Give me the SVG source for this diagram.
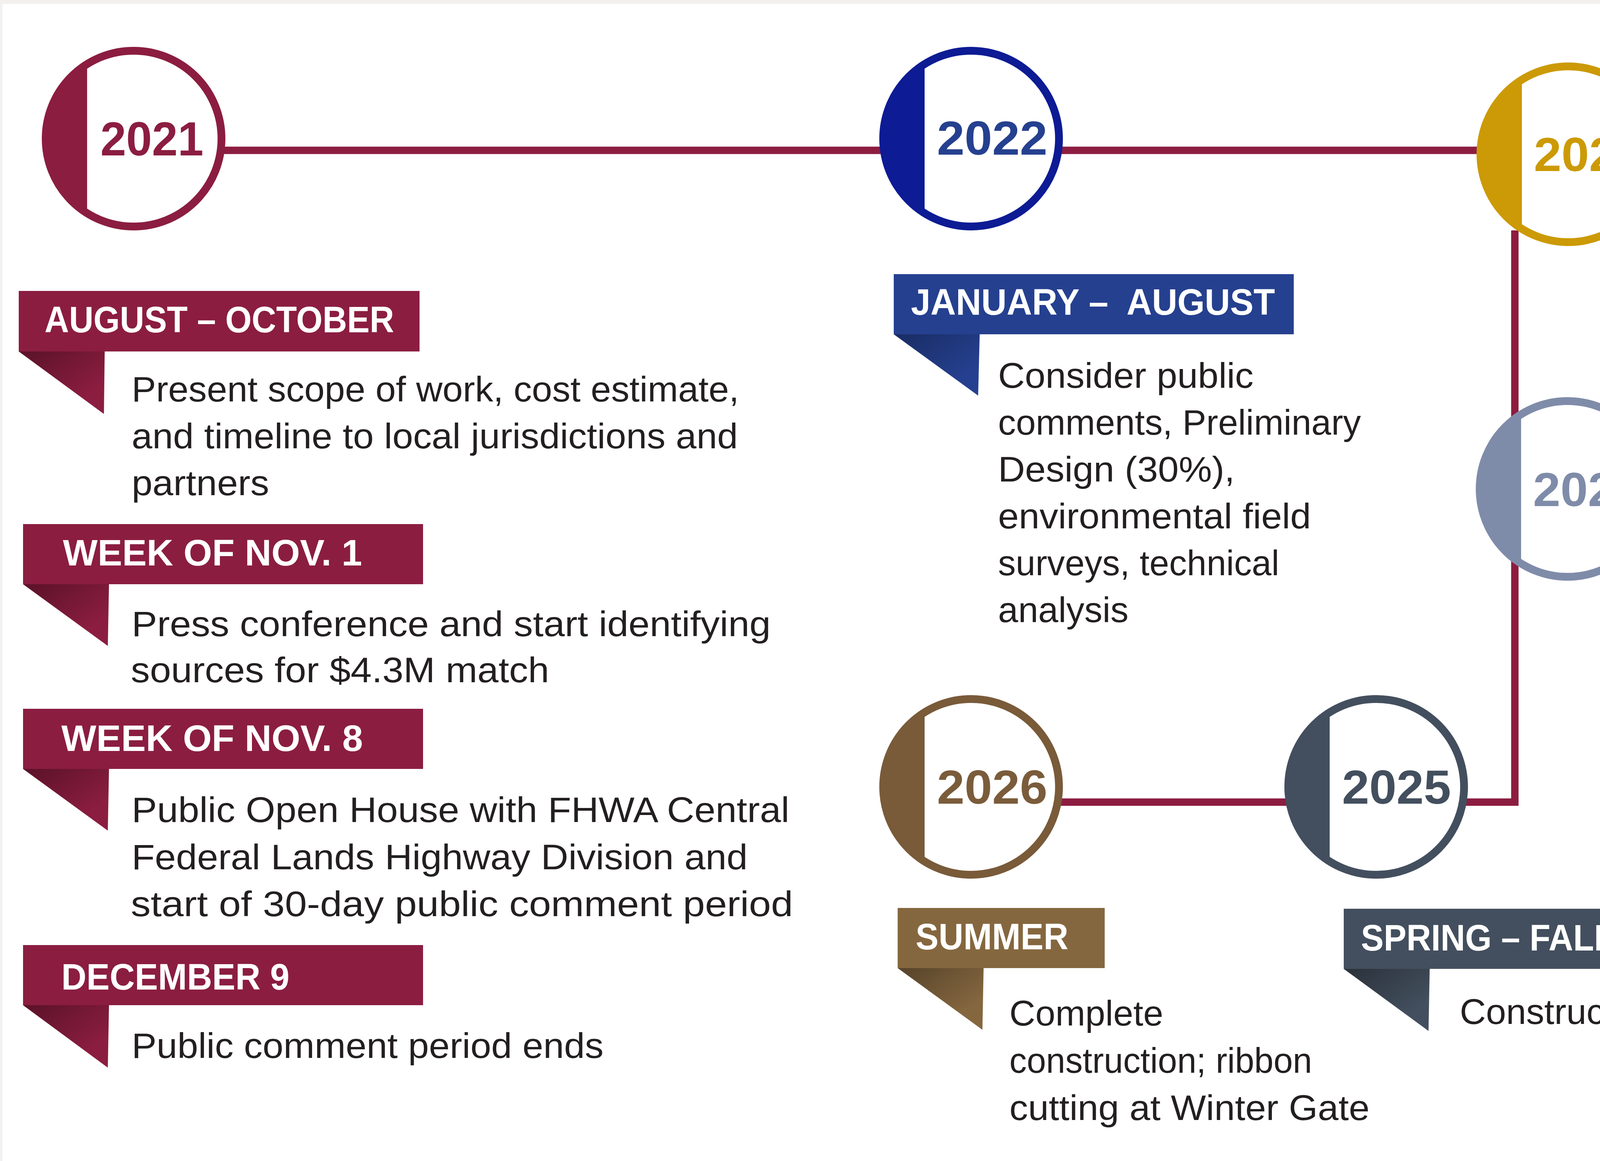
<svg xmlns="http://www.w3.org/2000/svg" width="5618" height="2973" viewBox="0 0 5618 2973">
<style>
.hdr{font-family:"Liberation Sans",Arial,sans-serif;font-weight:700;font-size:95px;fill:#ffffff}
.body{font-family:"Liberation Sans",Arial,sans-serif;font-size:90px;fill:#231f20}
.yr{font-family:"Liberation Sans",Arial,sans-serif;font-weight:700;font-size:122px;text-anchor:middle}
.conn{stroke:#8c1d40;stroke-width:19;fill:none;stroke-linejoin:miter}
.ring{fill:#ffffff;stroke-width:20}
</style>
<defs>
<linearGradient id="gM" x1="0" y1="0" x2="1" y2="1"><stop offset="0" stop-color="#5a1228"/><stop offset="0.75" stop-color="#8b1d41"/></linearGradient>
<linearGradient id="gB" x1="0" y1="0" x2="1" y2="1"><stop offset="0" stop-color="#192c63"/><stop offset="0.75" stop-color="#25408f"/></linearGradient>
<linearGradient id="gG" x1="0" y1="0" x2="1" y2="1"><stop offset="0" stop-color="#8a6600"/><stop offset="0.75" stop-color="#cc9a06"/></linearGradient>
<linearGradient id="gS" x1="0" y1="0" x2="1" y2="1"><stop offset="0" stop-color="#575f73"/><stop offset="0.75" stop-color="#7f8ca9"/></linearGradient>
<linearGradient id="gD" x1="0" y1="0" x2="1" y2="1"><stop offset="0" stop-color="#2a313a"/><stop offset="0.75" stop-color="#434f5e"/></linearGradient>
<linearGradient id="gN" x1="0" y1="0" x2="1" y2="1"><stop offset="0" stop-color="#56432a"/><stop offset="0.75" stop-color="#85673f"/></linearGradient>
</defs>
<rect x="0" y="0" width="5618" height="2973" fill="#f2f1ef"/>
<rect x="6" y="10" width="5602" height="2963" fill="#ffffff"/>

<g id="connectors">
<path class="conn" d="M560,385 H3790"/>
<path class="conn" d="M3878,590 V2054 H2700"/>
</g>

<g id="node-2021">
<circle class="ring" cx="342" cy="355" r="225" stroke="#8b1d41"/>
<path d="M223,165 A224,224 0 0 0 223,545 Z" fill="#8b1d41"/>
<text class="yr" x="389" y="398" fill="#8b1d41" textLength="264" lengthAdjust="spacingAndGlyphs">2021</text>
</g>
<g id="node-2022">
<circle class="ring" cx="2486" cy="355" r="225" stroke="#0d1b94"/>
<path d="M2367,165 A224,224 0 0 0 2367,545 Z" fill="#0d1b94"/>
<text class="yr" x="2540" y="396" fill="#25408f" textLength="283" lengthAdjust="spacingAndGlyphs">2022</text>
</g>
<g id="node-2023">
<circle class="ring" cx="4015" cy="395" r="225" stroke="#cc9a06"/>
<path d="M3896,205 A224,224 0 0 0 3896,585 Z" fill="#cc9a06"/>
<text class="yr" x="4068" y="438" fill="#cc9a06" textLength="283" lengthAdjust="spacingAndGlyphs">2023</text>
</g>
<g id="node-2024">
<circle class="ring" cx="4013" cy="1252" r="225" stroke="#7f8ca9"/>
<path d="M3894,1062 A224,224 0 0 0 3894,1442 Z" fill="#7f8ca9"/>
<text class="yr" x="4065" y="1296" fill="#7f8ca9" textLength="281" lengthAdjust="spacingAndGlyphs">2024</text>
</g>
<g id="node-2025">
<circle class="ring" cx="3523" cy="2015" r="225" stroke="#434f5e"/>
<path d="M3404,1825 A224,224 0 0 0 3404,2205 Z" fill="#434f5e"/>
<text class="yr" x="3575" y="2058" fill="#434f5e" textLength="279" lengthAdjust="spacingAndGlyphs">2025</text>
</g>
<g id="node-2026">
<circle class="ring" cx="2486" cy="2015" r="225" stroke="#795a39"/>
<path d="M2367,1825 A224,224 0 0 0 2367,2205 Z" fill="#795a39"/>
<text class="yr" x="2540" y="2058" fill="#7a5c3b" textLength="283" lengthAdjust="spacingAndGlyphs">2026</text>
</g>

<g id="event-aug-oct-2021">
<rect x="48" y="745" width="1026" height="155" fill="#8b1d41"/>
<path d="M48,900 H268 L266,1060 Z" fill="url(#gM)"/>
<text class="hdr" x="114" y="851" textLength="895" lengthAdjust="spacingAndGlyphs">AUGUST – OCTOBER</text>
<text class="body" x="337" y="1028" textLength="1555" lengthAdjust="spacingAndGlyphs">Present scope of work, cost estimate,</text>
<text class="body" x="337" y="1148" textLength="1552" lengthAdjust="spacingAndGlyphs">and timeline to local jurisdictions and</text>
<text class="body" x="337" y="1268" textLength="352" lengthAdjust="spacingAndGlyphs">partners</text>
</g>
<g id="event-nov1">
<rect x="59" y="1342" width="1024" height="154" fill="#8b1d41"/>
<path d="M59,1496 H279 L276,1654 Z" fill="url(#gM)"/>
<text class="hdr" x="161" y="1448" textLength="766" lengthAdjust="spacingAndGlyphs">WEEK OF NOV. 1</text>
<text class="body" x="337" y="1629" textLength="1636" lengthAdjust="spacingAndGlyphs">Press conference and start identifying</text>
<text class="body" x="335" y="1747" textLength="1071" lengthAdjust="spacingAndGlyphs">sources for $4.3M match</text>
</g>
<g id="event-nov8">
<rect x="59" y="1815" width="1024" height="154" fill="#8b1d41"/>
<path d="M59,1969 H279 L276,2127 Z" fill="url(#gM)"/>
<text class="hdr" x="157" y="1923" textLength="772" lengthAdjust="spacingAndGlyphs">WEEK OF NOV. 8</text>
<text class="body" x="337" y="2105" textLength="1684" lengthAdjust="spacingAndGlyphs">Public Open House with FHWA Central</text>
<text class="body" x="337" y="2226" textLength="1577" lengthAdjust="spacingAndGlyphs">Federal Lands Highway Division and</text>
<text class="body" x="335" y="2346" textLength="1695" lengthAdjust="spacingAndGlyphs">start of 30-day public comment period</text>
</g>
<g id="event-dec9">
<rect x="59" y="2420" width="1024" height="154" fill="#8b1d41"/>
<path d="M59,2574 H279 L276,2734 Z" fill="url(#gM)"/>
<text class="hdr" x="157" y="2534" textLength="584" lengthAdjust="spacingAndGlyphs">DECEMBER 9</text>
<text class="body" x="337" y="2709" textLength="1208" lengthAdjust="spacingAndGlyphs">Public comment period ends</text>
</g>

<g id="event-jan-aug-2022">
<rect x="2288" y="702" width="1024" height="154" fill="#25408f"/>
<path d="M2288,856 H2508 L2504,1013 Z" fill="url(#gB)"/>
<text class="hdr" x="2332" y="806" textLength="932" lengthAdjust="spacingAndGlyphs" xml:space="preserve">JANUARY –  AUGUST</text>
<text class="body" x="2555" y="993" textLength="654" lengthAdjust="spacingAndGlyphs">Consider public</text>
<text class="body" x="2555" y="1113" textLength="929" lengthAdjust="spacingAndGlyphs">comments, Preliminary</text>
<text class="body" x="2555" y="1233" textLength="606" lengthAdjust="spacingAndGlyphs">Design (30%),</text>
<text class="body" x="2555" y="1353" textLength="801" lengthAdjust="spacingAndGlyphs">environmental field</text>
<text class="body" x="2555" y="1473" textLength="720" lengthAdjust="spacingAndGlyphs">surveys, technical</text>
<text class="body" x="2555" y="1593" textLength="334" lengthAdjust="spacingAndGlyphs">analysis</text>
</g>

<g id="event-may-dec-2023">
<rect x="4355" y="302" width="906" height="154" fill="#cc9a06"/>
<path d="M4355,456 H4574 L4572,615 Z" fill="url(#gG)"/>
<text class="hdr" x="4400" y="406" textLength="792" lengthAdjust="spacingAndGlyphs">MAY – DECEMBER</text>
<text class="body" x="4666" y="603" textLength="665" lengthAdjust="spacingAndGlyphs">Pre-final design</text>
<text class="body" x="4666" y="725" textLength="893" lengthAdjust="spacingAndGlyphs">(95%), final technical</text>
<text class="body" x="4666" y="844" textLength="753" lengthAdjust="spacingAndGlyphs">reports and NEPA</text>
<text class="body" x="4666" y="964" textLength="610" lengthAdjust="spacingAndGlyphs">documentation</text>
</g>

<g id="event-jan-mar-2024">
<rect x="4314" y="1153" width="1025" height="154" fill="#7f8ca9"/>
<path d="M4314,1307 H4534 L4531,1467 Z" fill="url(#gS)"/>
<text class="hdr" x="4355" y="1261" textLength="892" lengthAdjust="spacingAndGlyphs">JANUARY – MARCH</text>
<text class="body" x="4607" y="1455" textLength="911" lengthAdjust="spacingAndGlyphs">Final Design (100%),</text>
<text class="body" x="4607" y="1575" textLength="655" lengthAdjust="spacingAndGlyphs">permitting, and</text>
<text class="body" x="4607" y="1695" textLength="894" lengthAdjust="spacingAndGlyphs">contract preparation</text>
</g>
<g id="event-aug-nov-2024">
<rect x="4314" y="1798" width="1025" height="154" fill="#7f8ca9"/>
<path d="M4314,1952 H4534 L4531,2110 Z" fill="url(#gS)"/>
<text class="hdr" x="4359" y="1902" textLength="941" lengthAdjust="spacingAndGlyphs">AUGUST – NOVEMBER</text>
<text class="body" x="4607" y="2098" textLength="814" lengthAdjust="spacingAndGlyphs">Initiate construction.</text>
<text class="body" x="4607" y="2218" textLength="579" lengthAdjust="spacingAndGlyphs">Prepare FLAP</text>
<text class="body" x="4607" y="2338" textLength="623" lengthAdjust="spacingAndGlyphs">application for</text>
<text class="body" x="4607" y="2458" textLength="782" lengthAdjust="spacingAndGlyphs">future phase: road</text>
<text class="body" x="4607" y="2578" textLength="572" lengthAdjust="spacingAndGlyphs">improvements</text>
<text class="body" x="4607" y="2698" textLength="795" lengthAdjust="spacingAndGlyphs">between Toll Booth</text>
<text class="body" x="4607" y="2818" textLength="742" lengthAdjust="spacingAndGlyphs">and Winter Gate</text>
</g>

<g id="event-spring-fall-2025">
<rect x="3440" y="2327" width="760" height="154" fill="#434f5e"/>
<path d="M3440,2481 H3660 L3657,2640 Z" fill="url(#gD)"/>
<text class="hdr" x="3484" y="2434" textLength="650" lengthAdjust="spacingAndGlyphs">SPRING – FALL</text>
<text class="body" x="3737" y="2622" textLength="520" lengthAdjust="spacingAndGlyphs">Construction</text>
</g>

<g id="event-summer-2026">
<rect x="2298" y="2325" width="530" height="154" fill="#85673f"/>
<path d="M2298,2479 H2518 L2515,2637 Z" fill="url(#gN)"/>
<text class="hdr" x="2344" y="2431" textLength="391" lengthAdjust="spacingAndGlyphs">SUMMER</text>
<text class="body" x="2584" y="2626" textLength="394" lengthAdjust="spacingAndGlyphs">Complete</text>
<text class="body" x="2584" y="2747" textLength="775" lengthAdjust="spacingAndGlyphs">construction; ribbon</text>
<text class="body" x="2584" y="2868" textLength="922" lengthAdjust="spacingAndGlyphs">cutting at Winter Gate</text>
</g>
</svg>
